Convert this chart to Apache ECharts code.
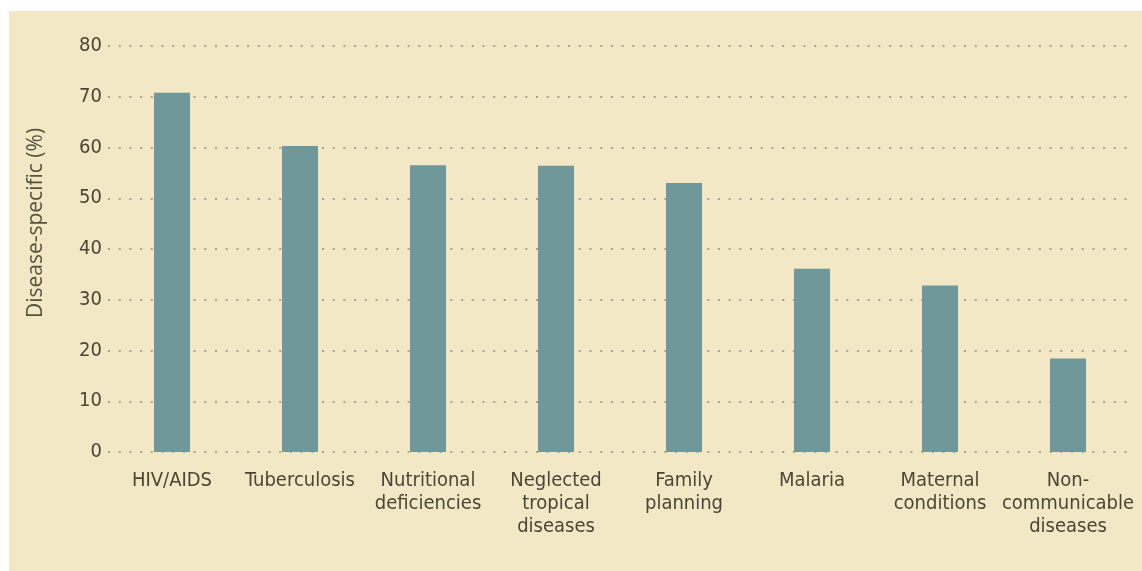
<!DOCTYPE html>
<html>
<head>
<meta charset="utf-8">
<script src="https://cdn.jsdelivr.net/npm/echarts@6/dist/echarts.min.js"></script>
<style>
  html, body { margin: 0; padding: 0; background: #ffffff; }
  #chart { width: 1142px; height: 571px; }
</style>
</head>
<body>
<div id="chart"></div>
<script>
// Share of disease-specific funding by health area
const categories = [
  'HIV/AIDS', 'Tuberculosis', 'Nutritional\ndeficiencies', 'Neglected\ntropical\ndiseases',
  'Family\nplanning', 'Malaria', 'Maternal\nconditions', 'Non-\ncommunicable\ndiseases'
];
const diseaseSpecific = [70.8, 60.3, 56.5, 56.4, 53.0, 36.1, 32.8, 18.4];
const yTicks = { min: 0, max: 80, interval: 10 };
const yAxisTitle = 'Disease-specific (%)';

const chart = echarts.init(document.getElementById('chart'), null, { renderer: 'canvas' });

const dotted = { color: '#ABA58E', width: 2, type: [2, 8.7] };

chart.setOption({
  animation: false,
  backgroundColor: '#ffffff',
  graphic: [
    {
      type: 'rect',
      z: -10,
      shape: { x: 9, y: 11, width: 1142 - 9, height: 571 - 11 },
      style: { fill: '#F2E8C6' }
    },
    {
      // vertical axis title
      type: 'text',
      x: 36,
      y: 223,
      rotation: Math.PI / 2,
      style: {
        text: yAxisTitle,
        fill: '#57523F',
        font: '21px "Open Sans"',
        textAlign: 'center',
        textVerticalAlign: 'middle'
      }
    }
  ],
  grid: { left: 108, top: 46, width: 1024, height: 406, containLabel: false },
  xAxis: {
    type: 'category',
    data: categories,
    axisLine: { show: false },
    axisTick: { show: false },
    axisLabel: {
      margin: 17,
      interval: 0,
      color: '#4A4536',
      fontFamily: 'DejaVu Sans Condensed',
      fontSize: 20,
      lineHeight: 23,
      align: 'center'
    }
  },
  yAxis: {
    type: 'value',
    min: yTicks.min,
    max: yTicks.max,
    interval: yTicks.interval,
    axisLine: { show: false },
    axisTick: { show: false },
    axisLabel: {
      margin: 6,
      color: '#4A4536',
      fontFamily: 'DejaVu Sans Condensed',
      fontSize: 20
    },
    splitLine: { show: true, lineStyle: dotted }
  },
  series: [{
    type: 'bar',
    data: diseaseSpecific,
    barWidth: 36,
    itemStyle: { color: '#6E989A' },
    z: 3
  }]
});
</script>
</body>
</html>
